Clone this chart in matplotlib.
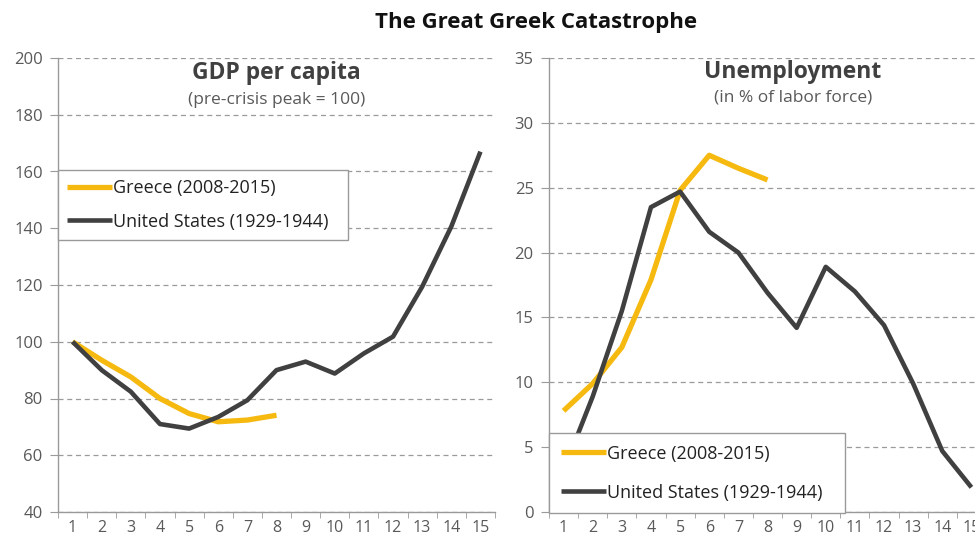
import matplotlib
matplotlib.use("Agg")
import matplotlib.pyplot as plt
from matplotlib.ticker import MultipleLocator, FixedLocator

plt.rcParams['font.family'] = ['Open Sans', 'DejaVu Sans']

years = list(range(1, 16))
gdp_greece = [100, 93.5, 87.6, 80.0, 74.7, 71.8, 72.4, 74.1]
gdp_us = [100, 90.0, 82.4, 71.0, 69.4, 73.5, 79.4, 90.0, 93.0, 88.8, 95.9, 101.8, 119.4, 140.6, 167.0]
unemp_greece = [7.8, 9.9, 12.7, 17.9, 24.8, 27.5, 26.5, 25.6]
unemp_us = [3.2, 8.9, 15.5, 23.5, 24.7, 21.6, 20.0, 16.9, 14.2, 18.9, 17.0, 14.4, 9.9, 4.7, 1.9]

label_gr = "Greece (2008-2015)"
label_us = "United States (1929-1944)"

YELLOW = "#F5B90F"
DARK = "#404040"
GRID = "#9a9a9a"
TXT = "#595959"

fig = plt.figure(figsize=(9.75, 5.4), dpi=100)
fig.text(0.55, 0.959, "The Great Greek Catastrophe", ha="center", va="center",
         fontsize=16, fontweight="bold", color="#111111")

def style(ax, ylim, ystep):
    ax.set_xlim(0.5, 15.5)
    ax.set_ylim(*ylim)
    ax.yaxis.set_major_locator(MultipleLocator(ystep))
    ax.set_xticks(years)
    ax.xaxis.set_minor_locator(FixedLocator([i + 0.5 for i in range(0, 16)]))
    ax.tick_params(axis="x", which="major", length=0, labelsize=11.5, colors=TXT, pad=6)
    ax.tick_params(axis="x", which="minor", length=4, color=GRID, direction="out")
    ax.tick_params(axis="y", which="major", length=6, color=GRID, labelsize=12, labelcolor=TXT, pad=5)
    for s in ("top", "right"):
        ax.spines[s].set_visible(False)
    for s in ("left", "bottom"):
        ax.spines[s].set_color(GRID)
        ax.spines[s].set_linewidth(1.0)
    ax.grid(axis="y", linestyle=(0, (4, 3)), color=GRID, linewidth=0.9)
    ax.set_axisbelow(True)

def legend(ax, bbox, spacing, pad):
    leg = ax.legend(loc="upper left", bbox_to_anchor=bbox, mode="expand", fontsize=13, frameon=True,
                    fancybox=False, edgecolor=GRID, framealpha=1.0, handlelength=2.5, handletextpad=0.05,
                    borderpad=pad, labelspacing=spacing, borderaxespad=0)
    leg.get_frame().set_linewidth(1.0)
    leg.set_zorder(10)
    for t in leg.get_texts():
        t.set_color("#222222")
    return leg

ax1 = fig.add_axes([58/975, 1-512/540, 437/975, (512-58)/540])
style(ax1, (40, 200), 20)
ax1.plot(years[:len(gdp_greece)], gdp_greece, color=YELLOW, lw=3.8, label=label_gr, solid_capstyle="butt", zorder=3)
ax1.plot(years, gdp_us, color=DARK, lw=3.3, label=label_us, solid_capstyle="butt", zorder=4)
ax1.text(0.50, 0.967, "GDP per capita", transform=ax1.transAxes, ha="center", va="center",
         fontsize=16.5, fontweight="bold", color="#404040")
ax1.text(0.50, 0.907, "(pre-crisis peak = 100)", transform=ax1.transAxes, ha="center", va="center",
         fontsize=12.5, color=TXT)
legend(ax1, (0.0, 0.0, 0.664, 0.753), 0.85, 0.5)

ax2 = fig.add_axes([549/975, 1-512/540, 437/975, (512-58)/540])
style(ax2, (0, 35), 5)
ax2.plot(years[:len(unemp_greece)], unemp_greece, color=YELLOW, lw=3.8, label=label_gr, solid_capstyle="butt", zorder=3)
ax2.plot(years, unemp_us, color=DARK, lw=3.3, label=label_us, solid_capstyle="butt", zorder=4)
ax2.text(0.558, 0.969, "Unemployment", transform=ax2.transAxes, ha="center", va="center",
         fontsize=16.5, fontweight="bold", color="#404040")
ax2.text(0.558, 0.912, "(in % of labor force)", transform=ax2.transAxes, ha="center", va="center",
         fontsize=12.5, color=TXT)
legend(ax2, (0.0, 0.0, 0.677, 0.174), 1.15, 0.65)

fig.savefig("out.png", dpi=100)
